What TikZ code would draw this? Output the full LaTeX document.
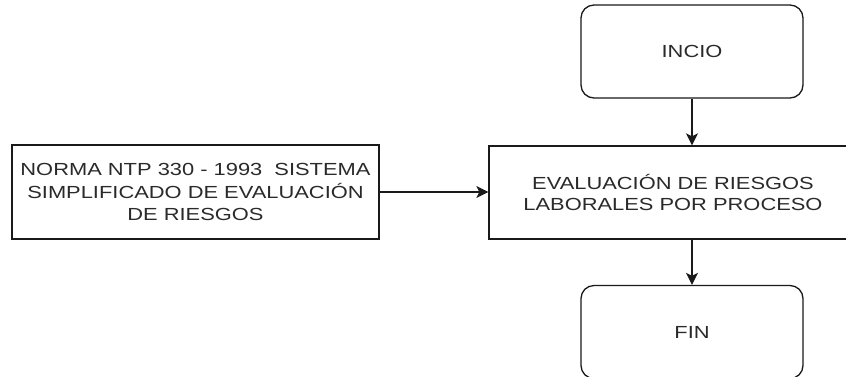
\documentclass[tikz,border=0pt]{standalone}
\usepackage{fontspec}
\setmainfont{Liberation Sans}
\newfontfamily\diagfont[FakeStretch=1.25]{Liberation Sans}
\usetikzlibrary{arrows.meta}
\definecolor{inkline}{HTML}{1A1A1A}
\definecolor{inktext}{HTML}{2A2A2A}
\tikzset{
  boxbase/.style={draw=inkline, line width=1.3pt, fill=white, text=inktext,
    align=center, inner sep=0pt, font=\diagfont\fontsize{17.5}{20.5}\selectfont},
  procbox/.style={boxbase, rectangle},
  termbox/.style={boxbase, rectangle, rounded corners=13pt,
    minimum width=222pt, minimum height=93pt},
  flow/.style={draw=inkline, line width=1.3pt,
    -{Stealth[length=12pt,width=12pt,inset=3pt]}}
}
\begin{document}
\begin{tikzpicture}[x=1pt,y=-1pt]
  \clip (0,0) rectangle (846,376);
  \fill[white] (0,0) rectangle (846,376);

  % start / end terminators
  \node[termbox] (inicio) at (692,51.5) {INCIO};
  \node[termbox] (fin) at (692,332) {FIN};

  % process step
  \node[procbox, minimum width=368pt, minimum height=93pt] (eval) at (673,192.5)
    {EVALUACIÓN DE RIESGOS\\LABORALES POR PROCESO};

  % input method
  \node[procbox, minimum width=367pt, minimum height=94pt,
        font=\diagfont\fontsize{17.5}{22.5}\selectfont] (norma) at (195.5,192)
    {NORMA NTP 330 - 1993\ \ SISTEMA\\SIMPLIFICADO DE EVALUACIÓN\\DE RIESGOS};

  % connectors
  \draw[flow] (norma.east) -- (eval.west |- norma.east);
  \draw[flow] (inicio.south) -- (inicio.south |- eval.north);
  \draw[flow] (fin.north |- eval.south) -- (fin.north);
\end{tikzpicture}
\end{document}
